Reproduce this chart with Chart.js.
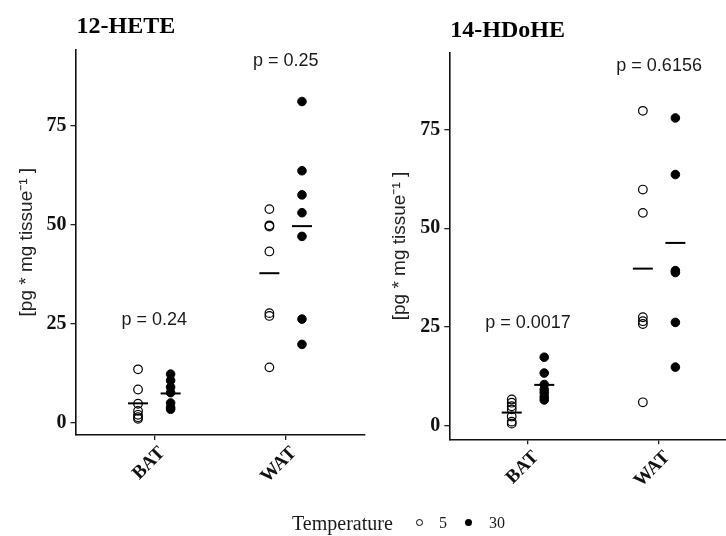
<!DOCTYPE html>
<html><head><meta charset="utf-8">
<script src="https://cdn.jsdelivr.net/npm/chart.js@4.4.0/dist/chart.umd.min.js"></script>
<style>
html,body{margin:0;padding:0;background:#fff;}
#wrap{position:relative;width:726px;height:536px;overflow:hidden;background:#fff;}
#c1{position:absolute;left:0;top:0;}
#c2{position:absolute;left:363px;top:0;}
.lg{position:absolute;font-family:'Liberation Serif','Times New Roman',serif;color:#1a1a1a;white-space:nowrap;line-height:1;}
.dot{position:absolute;width:7px;height:7px;border-radius:50%;box-sizing:border-box;}
</style></head><body>
<div id="wrap">
<canvas id="c1" width="366" height="536" style="width:366px;height:536px"></canvas>
<canvas id="c2" width="363" height="536" style="width:363px;height:536px"></canvas>
<span class="lg" style="left:292px;top:513px;font-size:20px;">Temperature</span>
<span class="dot" style="left:416px;top:519px;border:1.2px solid #000;"></span>
<span class="lg" style="left:439px;top:515px;font-size:16px;">5</span>
<span class="dot" style="left:465px;top:519px;background:#000;"></span>
<span class="lg" style="left:489px;top:515px;font-size:16px;">30</span>
</div>
<script>
const categories = ['BAT', 'WAT'];
const temperatures = ['5', '30'];
const yTicks = [0, 25, 50, 75];

// 12-HETE
const hete12_BAT_5  = [13.5, 8.4, 4.8, 3.0, 2.0, 1.4, 1.0];
const hete12_BAT_30 = [12.3, 10.7, 9.0, 7.6, 5.0, 3.9, 3.4];
const hete12_WAT_5  = [54.0, 49.9, 49.6, 43.3, 27.7, 27.0, 14.0];
const hete12_WAT_30 = [81.2, 63.7, 57.6, 53.1, 47.1, 26.2, 19.8];
const hete12_mean_5  = [4.9, 37.8];
const hete12_mean_30 = [7.4, 49.7];
const hete12_p = ['p = 0.24', 'p = 0.25'];
const hete12_pY = [24.7, 90.1];

// 14-HDoHE
const hdohe14_BAT_5  = [6.7, 5.9, 5.0, 4.2, 2.4, 1.1, 0.6];
const hdohe14_BAT_30 = [17.4, 13.4, 10.5, 9.2, 8.4, 7.4, 6.6];
const hdohe14_WAT_5  = [79.7, 59.8, 53.9, 27.5, 26.5, 25.8, 6.0];
const hdohe14_WAT_30 = [77.9, 63.6, 39.3, 38.8, 26.2, 14.9];
const hdohe14_mean_5  = [3.4, 39.8];
const hdohe14_mean_30 = [10.4, 46.3];
const hdohe14_p = ['p = 0.0017', 'p = 0.6156'];
const hdohe14_pY = [24.7, 89.7];

const DODGE = 0.124;

function pts(bat, wat, off) {
  return bat.map(v => ({x: 1 + off, y: v})).concat(wat.map(v => ({x: 2 + off, y: v})));
}
function meanPts(m, off) { return m.map((v, i) => ({x: i + 1 + off, y: v})); }

function build(canvasId, o) {
  const extras = {
    id: 'extras',
    afterDatasetsDraw(chart) {
      const ctx = chart.ctx, xs = chart.scales.x, ys = chart.scales.y;
      ctx.save();
      ctx.fillStyle = '#1a1a1a';
      ctx.font = '18px "Liberation Sans", Arial, sans-serif';
      ctx.textAlign = 'center';
      ctx.textBaseline = 'alphabetic';
      o.p.forEach((t, i) => {
        ctx.fillText(t, xs.getPixelForValue(i + 1), ys.getPixelForValue(o.pY[i]));
      });
      ctx.fillStyle = '#000';
      ctx.font = 'bold 24px "Liberation Serif", "Times New Roman", serif';
      ctx.textAlign = 'left';
      ctx.fillText(o.title, chart.chartArea.left + 1, chart.chartArea.top - 16);
      ctx.restore();
    }
  };
  const gridCfg = {display: true, drawOnChartArea: false, drawTicks: true, tickLength: 5, color: '#222', lineWidth: 1.3};
  const borderCfg = {display: true, color: '#111', width: 1.6};
  return new Chart(document.getElementById(canvasId), {
    type: 'scatter',
    data: {
      datasets: [
        {label: temperatures[0], data: pts(o.bat5, o.wat5, -DODGE), pointStyle: 'circle', pointRadius: 4.3,
         borderColor: '#000', backgroundColor: 'rgba(0,0,0,0)', borderWidth: 1.2},
        {label: temperatures[1], data: pts(o.bat30, o.wat30, DODGE), pointStyle: 'circle', pointRadius: 4.3,
         borderColor: '#000', backgroundColor: '#000', borderWidth: 1},
        {label: 'mean5', data: meanPts(o.m5, -DODGE), pointStyle: 'line', pointRadius: 10, borderColor: '#000', borderWidth: 2},
        {label: 'mean30', data: meanPts(o.m30, DODGE), pointStyle: 'line', pointRadius: 10, borderColor: '#000', borderWidth: 2}
      ]
    },
    options: {
      responsive: false, animation: false, events: [],
      layout: {autoPadding: false, padding: {top: o.top, right: o.padRight, left: 0, bottom: 0}},
      plugins: {legend: {display: false}, tooltip: {enabled: false}, title: {display: false}},
      datasets: {scatter: {clip: false}},
      scales: {
        x: {
          type: 'linear', min: 0.4, max: o.xMax,
          afterBuildTicks: s => { s.ticks = [{value: 1}, {value: 2}]; },
          afterFit: s => { s.height = 536 - o.bottom; s.paddingLeft = 0; s.paddingRight = 0; },
          ticks: {callback: v => categories[v - 1], minRotation: 45, maxRotation: 45, autoSkip: false,
                  font: {family: '"Liberation Serif", "Times New Roman", serif', size: 19, weight: 'bold'},
                  color: '#111', padding: 2, labelOffset: 8},
          grid: gridCfg, border: borderCfg
        },
        y: {
          min: o.yMin, max: o.yMax,
          afterBuildTicks: s => { s.ticks = yTicks.map(v => ({value: v})); },
          afterFit: s => { s.width = o.left; s.paddingTop = 0; s.paddingBottom = 0; },
          ticks: {font: {family: '"Liberation Serif", "Times New Roman", serif', size: 20, weight: 'bold'},
                  color: '#111', padding: 4},
          grid: gridCfg, border: borderCfg,
          title: {display: true, text: '[pg * mg tissue\u207B\u00B9 ]', color: '#222',
                  font: {family: '"Liberation Sans", Arial, sans-serif', size: 19},
                  padding: {top: o.titlePad, bottom: 0}}
        }
      }
    },
    plugins: [extras]
  });
}

build('c1', {bat5: hete12_BAT_5, wat5: hete12_WAT_5, bat30: hete12_BAT_30, wat30: hete12_WAT_30,
  m5: hete12_mean_5, m30: hete12_mean_30, p: hete12_p, pY: hete12_pY, title: '12-HETE',
  top: 49.3, bottom: 435, left: 75.5, padRight: 1.5, xMax: 2.6, yMin: -3.1, yMax: 94.4, titlePad: 15});
build('c2', {bat5: hdohe14_BAT_5, wat5: hdohe14_WAT_5, bat30: hdohe14_BAT_30, wat30: hdohe14_WAT_30,
  m5: hdohe14_mean_5, m30: hdohe14_mean_30, p: hdohe14_p, pY: hdohe14_pY, title: '14-HDoHE',
  top: 52.7, bottom: 439.3, left: 86.3, padRight: 0, xMax: 2.51, yMin: -3.36, yMax: 94.4, titlePad: 25});
</script>
</body></html>
